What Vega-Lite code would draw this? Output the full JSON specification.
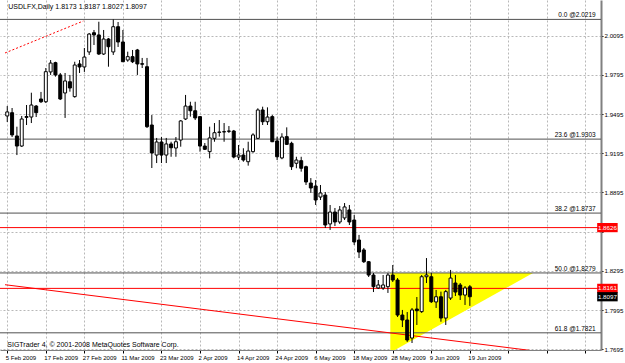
{
"$schema": "https://vega.github.io/schema/vega-lite/v6.json",
"width": 601, "height": 350,
"autosize": {"type": "none"},
"padding": {"left": 0, "top": 0, "right": 24, "bottom": 13},
"background": "white",
"config": {"view": {"stroke": null}, "font": "Liberation Sans"},
"datasets": {
"candles": [
{"i":0,"o":1.9480,"h":1.9556,"l":1.9434,"c":1.9511},
{"i":1,"o":1.9505,"h":1.9541,"l":1.9319,"c":1.9335},
{"i":2,"o":1.9327,"h":1.9398,"l":1.9181,"c":1.9250},
{"i":3,"o":1.9250,"h":1.9480,"l":1.9243,"c":1.9457},
{"i":4,"o":1.9469,"h":1.9564,"l":1.9411,"c":1.9476},
{"i":5,"o":1.9472,"h":1.9658,"l":1.9426,"c":1.9564},
{"i":6,"o":1.9556,"h":1.9564,"l":1.9472,"c":1.9505},
{"i":7,"o":1.9610,"h":1.9664,"l":1.9579,"c":1.9589},
{"i":8,"o":1.9589,"h":1.9847,"l":1.9579,"c":1.9819},
{"i":9,"o":1.9817,"h":1.9908,"l":1.9794,"c":1.9885},
{"i":10,"o":1.9888,"h":1.9895,"l":1.9781,"c":1.9794},
{"i":11,"o":1.9794,"h":1.9809,"l":1.9602,"c":1.9610},
{"i":12,"o":1.9656,"h":1.9809,"l":1.9465,"c":1.9748},
{"i":13,"o":1.9742,"h":1.9794,"l":1.9666,"c":1.9694},
{"i":14,"o":1.9628,"h":1.9895,"l":1.9620,"c":1.9870},
{"i":15,"o":1.9878,"h":1.9908,"l":1.9809,"c":1.9855},
{"i":16,"o":1.9855,"h":2.0000,"l":1.9817,"c":1.9931},
{"i":17,"o":1.9970,"h":2.0115,"l":1.9947,"c":2.0107},
{"i":18,"o":2.0117,"h":2.0138,"l":2.0023,"c":2.0100},
{"i":19,"o":2.0100,"h":2.0201,"l":1.9947,"c":1.9954},
{"i":20,"o":1.9954,"h":2.0138,"l":1.9947,"c":2.0069},
{"i":21,"o":2.0069,"h":2.0077,"l":1.9857,"c":2.0010},
{"i":22,"o":1.9970,"h":2.0219,"l":1.9947,"c":2.0163},
{"i":23,"o":2.0163,"h":2.0199,"l":2.0008,"c":2.0046},
{"i":24,"o":2.0046,"h":2.0138,"l":1.9893,"c":1.9895},
{"i":25,"o":1.9908,"h":1.9972,"l":1.9895,"c":1.9934},
{"i":26,"o":1.9934,"h":1.9985,"l":1.9885,"c":1.9895},
{"i":27,"o":1.9985,"h":1.9993,"l":1.9794,"c":1.9878},
{"i":28,"o":1.9880,"h":1.9924,"l":1.9847,"c":1.9876},
{"i":29,"o":1.9857,"h":1.9924,"l":1.9388,"c":1.9398},
{"i":30,"o":1.9411,"h":1.9487,"l":1.9082,"c":1.9197},
{"i":31,"o":1.9181,"h":1.9312,"l":1.9120,"c":1.9281},
{"i":32,"o":1.9281,"h":1.9319,"l":1.9120,"c":1.9181},
{"i":33,"o":1.9181,"h":1.9312,"l":1.9120,"c":1.9266},
{"i":34,"o":1.9266,"h":1.9283,"l":1.9168,"c":1.9237},
{"i":35,"o":1.9235,"h":1.9319,"l":1.9168,"c":1.9283},
{"i":36,"o":1.9296,"h":1.9449,"l":1.9245,"c":1.9442},
{"i":37,"o":1.9457,"h":1.9641,"l":1.9449,"c":1.9556},
{"i":38,"o":1.9556,"h":1.9589,"l":1.9475,"c":1.9520},
{"i":39,"o":1.9520,"h":1.9589,"l":1.9449,"c":1.9465},
{"i":40,"o":1.9475,"h":1.9480,"l":1.9207,"c":1.9250},
{"i":41,"o":1.9250,"h":1.9273,"l":1.9220,"c":1.9225},
{"i":42,"o":1.9207,"h":1.9398,"l":1.9156,"c":1.9312},
{"i":43,"o":1.9309,"h":1.9426,"l":1.9283,"c":1.9352},
{"i":44,"o":1.9357,"h":1.9449,"l":1.9322,"c":1.9355},
{"i":45,"o":1.9360,"h":1.9426,"l":1.9283,"c":1.9358},
{"i":46,"o":1.9365,"h":1.9403,"l":1.9350,"c":1.9363},
{"i":47,"o":1.9365,"h":1.9373,"l":1.9156,"c":1.9166},
{"i":48,"o":1.9166,"h":1.9258,"l":1.9143,"c":1.9181},
{"i":49,"o":1.9181,"h":1.9233,"l":1.9130,"c":1.9143},
{"i":50,"o":1.9130,"h":1.9283,"l":1.9100,"c":1.9212},
{"i":51,"o":1.9207,"h":1.9348,"l":1.9199,"c":1.9335},
{"i":52,"o":1.9309,"h":1.9539,"l":1.9305,"c":1.9526},
{"i":53,"o":1.9526,"h":1.9551,"l":1.9411,"c":1.9436},
{"i":54,"o":1.9436,"h":1.9546,"l":1.9411,"c":1.9472},
{"i":55,"o":1.9475,"h":1.9487,"l":1.9280,"c":1.9283},
{"i":56,"o":1.9289,"h":1.9322,"l":1.9143,"c":1.9168},
{"i":57,"o":1.9159,"h":1.9348,"l":1.9149,"c":1.9319},
{"i":58,"o":1.9322,"h":1.9393,"l":1.9258,"c":1.9263},
{"i":59,"o":1.9271,"h":1.9283,"l":1.9067,"c":1.9092},
{"i":60,"o":1.9118,"h":1.9168,"l":1.9080,"c":1.9143},
{"i":61,"o":1.9138,"h":1.9168,"l":1.9054,"c":1.9080},
{"i":62,"o":1.9092,"h":1.9100,"l":1.8952,"c":1.8975},
{"i":63,"o":1.8967,"h":1.9005,"l":1.8891,"c":1.8929},
{"i":64,"o":1.8944,"h":1.8990,"l":1.8799,"c":1.8837},
{"i":65,"o":1.8860,"h":1.8952,"l":1.8837,"c":1.8891},
{"i":66,"o":1.8875,"h":1.8898,"l":1.8623,"c":1.8646},
{"i":67,"o":1.8654,"h":1.8799,"l":1.8608,"c":1.8745},
{"i":68,"o":1.8745,"h":1.8776,"l":1.8638,"c":1.8669},
{"i":69,"o":1.8669,"h":1.8791,"l":1.8654,"c":1.8761},
{"i":70,"o":1.8700,"h":1.8814,"l":1.8684,"c":1.8784},
{"i":71,"o":1.8761,"h":1.8799,"l":1.8646,"c":1.8669},
{"i":72,"o":1.8684,"h":1.8723,"l":1.8493,"c":1.8516},
{"i":73,"o":1.8531,"h":1.8570,"l":1.8393,"c":1.8439},
{"i":74,"o":1.8455,"h":1.8470,"l":1.8355,"c":1.8365},
{"i":75,"o":1.8365,"h":1.8370,"l":1.8248,"c":1.8263},
{"i":76,"o":1.8263,"h":1.8279,"l":1.8133,"c":1.8174},
{"i":77,"o":1.8164,"h":1.8225,"l":1.8156,"c":1.8187},
{"i":78,"o":1.8164,"h":1.8263,"l":1.8149,"c":1.8187},
{"i":79,"o":1.8174,"h":1.8279,"l":1.8126,"c":1.8263},
{"i":80,"o":1.8263,"h":1.8340,"l":1.8210,"c":1.8225},
{"i":81,"o":1.8225,"h":1.8240,"l":1.7942,"c":1.7957},
{"i":82,"o":1.7957,"h":1.7996,"l":1.7865,"c":1.7919},
{"i":83,"o":1.7919,"h":1.7980,"l":1.7751,"c":1.7766},
{"i":84,"o":1.7781,"h":1.8011,"l":1.7743,"c":1.7996},
{"i":85,"o":1.8003,"h":1.8095,"l":1.7881,"c":1.7990},
{"i":86,"o":1.7983,"h":1.8263,"l":1.7973,"c":1.8250},
{"i":87,"o":1.8250,"h":1.8393,"l":1.8202,"c":1.8263},
{"i":88,"o":1.8250,"h":1.8279,"l":1.8049,"c":1.8059},
{"i":89,"o":1.8057,"h":1.8149,"l":1.8011,"c":1.8097},
{"i":90,"o":1.8097,"h":1.8136,"l":1.7906,"c":1.7934},
{"i":91,"o":1.7934,"h":1.8149,"l":1.7881,"c":1.8136},
{"i":92,"o":1.8087,"h":1.8302,"l":1.8072,"c":1.8240},
{"i":93,"o":1.8202,"h":1.8263,"l":1.8103,"c":1.8133},
{"i":94,"o":1.8187,"h":1.8202,"l":1.8072,"c":1.8110},
{"i":95,"o":1.8110,"h":1.8179,"l":1.8034,"c":1.8164},
{"i":96,"o":1.8173,"h":1.8187,"l":1.8027,"c":1.8097}
],
"hlines": [
{"v":2.0219,"col":"#505050"},
{"v":1.9303,"col":"#505050"},
{"v":1.8737,"col":"#505050"},
{"v":1.8626,"col":"#ff0000"},
{"v":1.8279,"col":"#505050"},
{"v":1.8161,"col":"#ff0000"},
{"v":1.7821,"col":"#505050"}
],
"fib": [
{"v":2.0219,"t":"0.0 @2.0219"},
{"v":1.9303,"t":"23.6 @1.9303"},
{"v":1.8737,"t":"38.2 @1.8737"},
{"v":1.8279,"t":"50.0 @1.8279"},
{"v":1.7821,"t":"61.8 @1.7821"}
],
"tags": [
{"v":1.8626,"t":"1.8626","bg":"#ff0000"},
{"v":1.8161,"t":"1.8161","bg":"#ff0000"},
{"v":1.8097,"t":"1.8097","bg":"#000000"}
],
"tri": [
{"i":79.5,"top":1.8279,"bot":1.7670},
{"i":109.1,"top":1.8279,"bot":1.8279}
],
"trend": [
{"i":-0.47,"v":1.8189},
{"i":111.2,"v":1.7674}
],
"dotted": [
{"i":-0.47,"v":1.9962},
{"i":15.8,"v":2.0207}
]
},
"layer": [
{
"data": {"name": "tri"},
"mark": {"type": "area", "color": "#ffff00", "opacity": 1, "clip": true},
"encoding": {
"x": {"field": "i", "type": "quantitative", "title": null, "scale": {"domain": [-0.47, 122.18], "nice": false, "zero": false},
"axis": {"title": null, "values": [0,8,16,24,32,40,48,56,64,72,80,88,96,104,112,120],
"labelExpr": "datum.value > 96 ? '' : ['5 Feb 2009','17 Feb 2009','27 Feb 2009','11 Mar 2009','23 Mar 2009','2 Apr 2009','14 Apr 2009','24 Apr 2009','6 May 2009','18 May 2009','28 May 2009','9 Jun 2009','19 Jun 2009'][round(datum.value/8)]",
"labelAlign": "left", "labelBaseline": "top", "labelPadding": 1, "labelFontSize": 6, "labelColor": "#000000", "labelFont": "Liberation Sans", "labelOffset": -2,
"tickSize": 3, "tickColor": "#000000", "domainColor": "#808080", "domainWidth": 1,
"grid": true, "gridColor": "#b8b8b8", "gridDash": [2, 2], "labelOverlap": false, "labelFlush": false}},
"y": {"field": "top", "type": "quantitative", "title": null, "scale": {"domain": [1.76895, 2.03674], "nice": false, "zero": false},
"axis": {"title": null, "orient": "right", "values": [2.0245,2.0095,1.9945,1.9795,1.9645,1.9495,1.9345,1.9195,1.9045,1.8895,1.8745,1.8595,1.8445,1.8295,1.8145,1.7995,1.7845,1.7695],
"labelExpr": "abs(datum.value - 1.8595) < 0.0001 || abs(datum.value - 1.8145) < 0.0001 ? '' : format(datum.value, '.4f')",
"labelFontSize": 6.2, "labelColor": "#000000", "labelFont": "Liberation Sans", "labelPadding": 1,
"tickSize": 2, "tickColor": "#000000", "domainColor": "#808080", "domainWidth": 2,
"grid": true, "gridColor": "#b8b8b8", "gridDash": [2, 2], "labelOverlap": false, "labelFlush": false}},
"y2": {"field": "bot"}
}
},
{
"data": {"name": "hlines"},
"mark": {"type": "rule", "strokeWidth": 1},
"encoding": {
"y": {"field": "v", "type": "quantitative", "title": null},
"color": {"field": "col", "type": "nominal", "scale": null}
}
},
{
"data": {"name": "trend"},
"mark": {"type": "line", "color": "#ff0000", "strokeWidth": 1, "clip": true},
"encoding": {
"x": {"field": "i", "type": "quantitative", "title": null},
"y": {"field": "v", "type": "quantitative", "title": null}
}
},
{
"data": {"name": "dotted"},
"mark": {"type": "line", "color": "#ff0000", "strokeWidth": 1, "strokeDash": [2, 2], "clip": true},
"encoding": {
"x": {"field": "i", "type": "quantitative", "title": null},
"y": {"field": "v", "type": "quantitative", "title": null}
}
},
{
"data": {"name": "candles"},
"mark": {"type": "rule", "color": "#000000", "strokeWidth": 1},
"encoding": {
"x": {"field": "i", "type": "quantitative", "title": null},
"y": {"field": "l", "type": "quantitative", "title": null},
"y2": {"field": "h"}
}
},
{
"data": {"name": "candles"},
"mark": {"type": "bar", "width": 3, "stroke": "#000000", "strokeWidth": 1},
"encoding": {
"x": {"field": "i", "type": "quantitative", "title": null},
"y": {"field": "o", "type": "quantitative", "title": null},
"y2": {"field": "c"},
"fill": {"condition": {"test": "datum.c >= datum.o", "value": "#ffffff"}, "value": "#000000"}
}
},
{
"data": {"name": "fib"},
"mark": {"type": "text", "align": "right", "baseline": "bottom", "dy": -1, "fontSize": 6.5, "color": "#000000"},
"encoding": {
"x": {"datum": 122.1, "type": "quantitative", "title": null},
"y": {"field": "v", "type": "quantitative", "title": null},
"text": {"field": "t"}
}
},
{
"data": {"name": "tags"},
"mark": {"type": "point", "shape": "M-1,-0.45H1V0.45H-1Z", "size": 420, "filled": true, "opacity": 1, "strokeWidth": 0, "clip": false},
"encoding": {
"x": {"datum": 124.55, "type": "quantitative", "title": null},
"y": {"field": "v", "type": "quantitative", "title": null},
"color": {"field": "bg", "type": "nominal", "scale": null}
}
},
{
"data": {"name": "tags"},
"mark": {"type": "text", "align": "center", "baseline": "middle", "fontSize": 6.2, "color": "#ffffff", "clip": false},
"encoding": {
"x": {"datum": 124.55, "type": "quantitative", "title": null},
"y": {"field": "v", "type": "quantitative", "title": null},
"text": {"field": "t"}
}
},
{
"data": {"values": [{"t": "USDLFX,Daily  1.8173 1.8187 1.8027 1.8097", "v": 2.0314}]},
"mark": {"type": "text", "align": "left", "baseline": "middle", "fontSize": 7, "color": "#000000"},
"encoding": {
"x": {"datum": 0.2, "type": "quantitative", "title": null},
"y": {"field": "v", "type": "quantitative", "title": null},
"text": {"field": "t"}
}
},
{
"data": {"values": [{"t": "SIGTrader 4, © 2001-2008 MetaQuotes Software Corp.", "v": 1.7730}]},
"mark": {"type": "text", "align": "left", "baseline": "middle", "fontSize": 7, "color": "#000000"},
"encoding": {
"x": {"datum": 0.0, "type": "quantitative", "title": null},
"y": {"field": "v", "type": "quantitative", "title": null},
"text": {"field": "t"}
}
}
]
}
